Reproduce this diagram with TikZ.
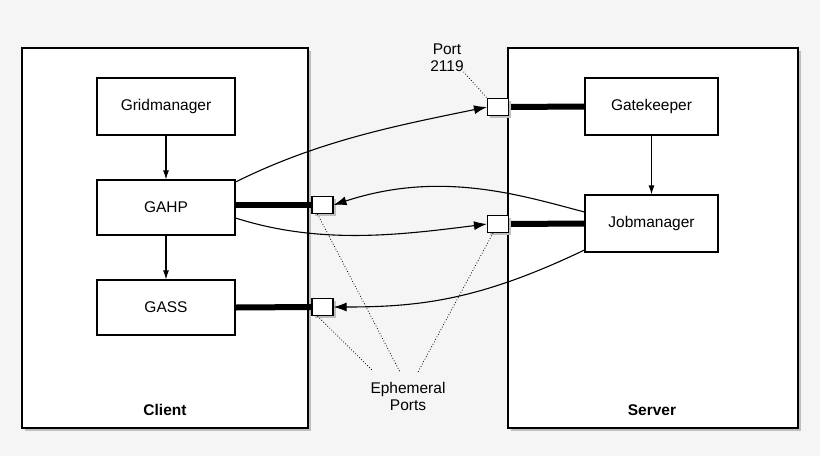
\documentclass[tikz,border=0pt]{standalone}
\usepackage{fontspec}
\setmainfont{Liberation Sans}
\usetikzlibrary{arrows.meta}
\definecolor{bg}{HTML}{F5F5F5}
\tikzset{
	every picture/.style={line width=1.1pt},
	host/.style={draw, line width=1.3pt, fill=white},
	shade/.style={fill=black!25},
	proc/.style={draw, fill=white, font=\fontsize{15.5}{18}\selectfont},
	port/.style={draw, fill=white, minimum width=21pt, minimum height=17pt, inner sep=0pt},
	link/.style={line width=6pt},
	msg/.style={-{Latex[length=13pt, width=9pt]}},
	note/.style={align=center, font=\fontsize{15.5}{17}\selectfont}
}
\begin{document}
\begin{tikzpicture}[x=1pt, y=-1pt]
	\fill[bg] (0,0) rectangle (820,456);
	\useasboundingbox (0,0) rectangle (820,456);
	% hosts
	\fill[shade] (25,51) rectangle (311,431);
	\fill[shade] (511,51) rectangle (801,431);
	\draw[host] (22,48) rectangle (308,428);
	\draw[host] (508,48) rectangle (798,428);
	\node[font=\bfseries\fontsize{15.5}{18}\selectfont] (client) at (165,410) {Client};
	\node[font=\bfseries\fontsize{15.5}{18}\selectfont] (server) at (652,410) {Server};
	% processes
	\node[proc, minimum width=138pt, minimum height=57pt] (grid) at (166,106.5) {Gridmanager};
	\node[proc, minimum width=138pt, minimum height=55pt] (gahp) at (166,207.5) {GAHP};
	\node[proc, minimum width=138pt, minimum height=55pt] (gass) at (166,307.5) {GASS};
	\node[proc, minimum width=133pt, minimum height=57pt] (gate) at (651.5,106.5) {Gatekeeper};
	\node[proc, minimum width=133pt, minimum height=57pt] (job) at (651.5,223.5) {Jobmanager};
	\draw[-{Latex[length=9pt, width=6pt]}] (grid) -- (gahp);
	\draw[-{Latex[length=9pt, width=6pt]}] (gahp) -- (gass);
	\draw[-{Latex[length=9pt, width=6pt]}] (gate) -- (job);
	% ports
	\draw[link] (gahp.east |- 0,205) -- (312,205);
	\draw[link] (gass.east) -- (312,307);
	\draw[link] (gate.west) -- (509,107);
	\draw[link] (job.west) -- (509,224);
	\foreach \p/\x/\y in {pa/322.5/205, pb/322.5/307, pc/498/107, pd/498/224}
		\fill[shade] (\x-8,\y-6) rectangle (\x+13,\y+11);
	\node[port] (pa) at (322.5,205) {};
	\node[port] (pb) at (322.5,307) {};
	\node[port] (pc) at (498,107) {};
	\node[port] (pd) at (498,224) {};
	% connections
	\draw[msg] (gahp.east |- 0,182) .. controls (320,140) and (400,125) .. (pc.west);
	\draw[msg] (job.west |- 0,212) .. controls (520,195) and (440,170) .. (pa.east);
	\draw[msg] (gahp.east |- 0,218) .. controls (320,245) and (400,235) .. (pd.west);
	\draw[msg] (job.west |- 0,250) .. controls (480,300) and (420,307) .. (pb.east);
	% labels
	\node[note] (p2119) at (447,58) {Port\\2119};
	\node[note] (eph) at (408,396) {Ephemeral\\Ports};
	\draw[dotted, thick] (p2119.south east) ++(-4,-4) -- (pc.north west);
	\draw[dotted, thick] (pa.south) ++(-5,0) -- (400,372);
	\draw[dotted, thick] (pb.south) ++(-5,0) -- (372,370);
	\draw[dotted, thick] (pd.south) ++(-5,0) -- (418,372);
\end{tikzpicture}
\end{document}
